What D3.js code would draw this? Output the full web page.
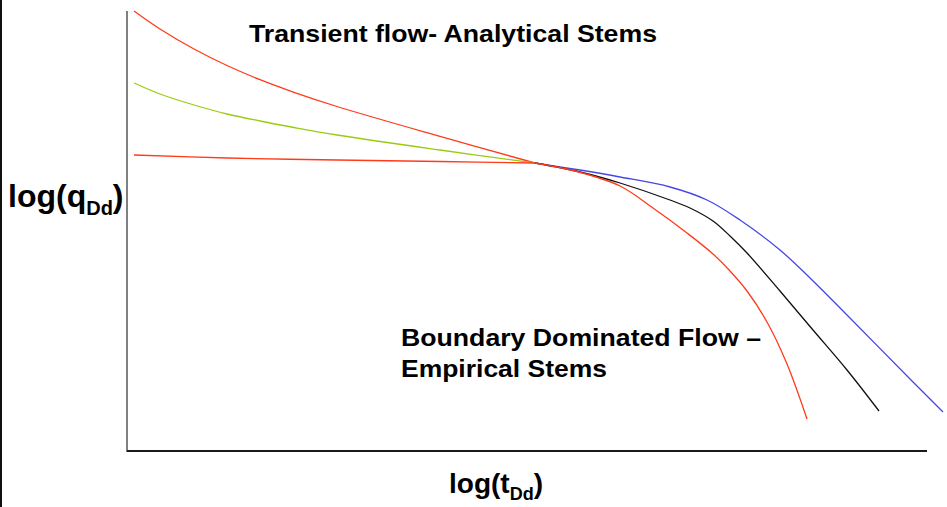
<!DOCTYPE html>
<html>
<head>
<meta charset="utf-8">
<script src="https://cdn.jsdelivr.net/npm/d3@7"></script>
<style>
  html, body { margin: 0; padding: 0; background: #fff; }
  svg { display: block; }
  text { font-family: "Liberation Sans", Arial, sans-serif; font-weight: bold; fill: #000; }
</style>
</head>
<body>
<svg id="chart" width="947" height="507"></svg>
<script>
// Type-curve sketch: dimensionless rate vs dimensionless time (log-log, arbitrary units)

// Transient (analytical) stems
const transientTopX = [0.07, 0.33, 0.67, 1.00, 1.33, 1.67, 2.10, 3.13, 4.08];
const transientTopY = [4.40, 4.22, 4.02, 3.855, 3.713, 3.587, 3.445, 3.146, 2.88];

const transientMidX = [0.07, 0.33, 0.67, 1.00, 1.33, 1.67, 2.10, 3.13, 4.08];
const transientMidY = [3.68, 3.57, 3.46, 3.37, 3.30, 3.235, 3.16, 3.01, 2.88];

const transientLowX = [0.07, 1.00, 2.10, 3.13, 4.08];
const transientLowY = [2.96, 2.93, 2.91, 2.895, 2.88];

// Boundary-dominated (empirical) stems
const bdfBlueX = [4.08, 4.53, 4.93, 5.43, 5.80, 6.13, 6.53, 6.83, 7.20, 7.86, 8.16];
const bdfBlueY = [2.88, 2.81, 2.74, 2.64, 2.51, 2.31, 2.01, 1.73, 1.36, 0.69, 0.39];

const bdfBlackX = [4.08, 4.53, 4.93, 5.43, 5.63, 5.86, 6.03, 6.20, 6.53, 6.86, 7.20, 7.52];
const bdfBlackY = [2.88, 2.79, 2.68, 2.51, 2.43, 2.30, 2.15, 1.98, 1.60, 1.21, 0.81, 0.40];

const bdfRedX = [4.08, 4.48, 4.93, 5.26, 5.60, 5.86, 6.03, 6.20, 6.40, 6.60, 6.80];
const bdfRedY = [2.88, 2.80, 2.65, 2.43, 2.18, 1.97, 1.80, 1.60, 1.29, 0.87, 0.32];

const svg = d3.select("#chart");

const plot = { left: 127, right: 927, top: 11, bottom: 451 };

const x = d3.scaleLinear().domain([0, 8]).range([plot.left, plot.right]);
const y = d3.scaleLinear().domain([0, 4.4]).range([plot.bottom, plot.top]);

// Page border on the left edge
svg.append("line")
  .attr("x1", 1).attr("x2", 1).attr("y1", 0).attr("y2", 507)
  .attr("stroke", "#111").attr("stroke-width", 2);

// Axes without ticks
svg.append("line")
  .attr("x1", x(0)).attr("x2", x(0)).attr("y1", y(4.4)).attr("y2", y(0) + 1)
  .attr("stroke", "#808080").attr("stroke-width", 2);
svg.append("line")
  .attr("x1", x(0)).attr("x2", x(8)).attr("y1", y(0)).attr("y2", y(0))
  .attr("stroke", "#1a1a1a").attr("stroke-width", 2);

const line = d3.line()
  .x(d => x(d[0]))
  .y(d => y(d[1]))
  .curve(d3.curveCatmullRom.alpha(0.5));

const series = [
  { xs: transientTopX, ys: transientTopY, color: "#ff3b1a" },
  { xs: transientMidX, ys: transientMidY, color: "#99cc11" },
  { xs: transientLowX, ys: transientLowY, color: "#ff3b1a" },
  { xs: bdfBlueX, ys: bdfBlueY, color: "#4646e6" },
  { xs: bdfBlackX, ys: bdfBlackY, color: "#111111" },
  { xs: bdfRedX, ys: bdfRedY, color: "#ff3b1a" }
];

svg.append("g").selectAll("path")
  .data(series)
  .join("path")
  .attr("d", s => line(s.xs.map((v, i) => [v, s.ys[i]])))
  .attr("fill", "none")
  .attr("stroke", s => s.color)
  .attr("stroke-width", 1.3);

// Annotations
svg.append("text")
  .attr("x", 249).attr("y", 42)
  .attr("font-size", 24)
  .attr("textLength", 408).attr("lengthAdjust", "spacingAndGlyphs")
  .text("Transient flow- Analytical Stems");

svg.append("text")
  .attr("x", 401).attr("y", 346)
  .attr("font-size", 24)
  .attr("textLength", 360).attr("lengthAdjust", "spacingAndGlyphs")
  .text("Boundary Dominated Flow –");
svg.append("text")
  .attr("x", 401).attr("y", 377)
  .attr("font-size", 24)
  .attr("textLength", 206).attr("lengthAdjust", "spacingAndGlyphs")
  .text("Empirical Stems");

// Axis titles
const yTitle = svg.append("text").attr("x", 8).attr("y", 207).attr("font-size", 32);
yTitle.append("tspan").text("log(q");
yTitle.append("tspan").attr("font-size", 20).attr("dy", 8).text("Dd");
yTitle.append("tspan").attr("dy", -8).text(")");

const xTitle = svg.append("text").attr("x", 449).attr("y", 493).attr("font-size", 28);
xTitle.append("tspan").text("log(t");
xTitle.append("tspan").attr("font-size", 18).attr("dy", 7).text("Dd");
xTitle.append("tspan").attr("dy", -7).text(")");
</script>
</body>
</html>
